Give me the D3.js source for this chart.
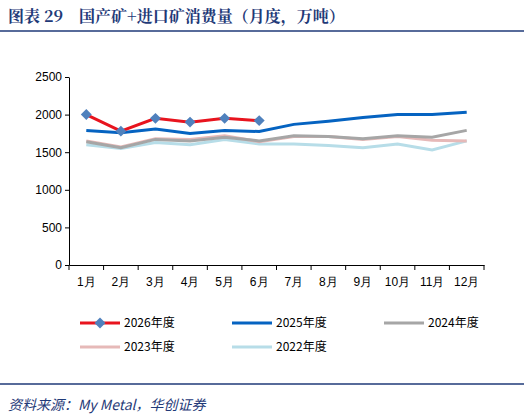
<!DOCTYPE html><html><head><meta charset="utf-8"><script src="https://cdn.jsdelivr.net/npm/d3@7"></script>
<style>body{margin:0;background:#fff}svg{font-family:"Noto Sans CJK SC","Liberation Serif",serif}</style></head><body><svg width="524" height="420"></svg>
<script>
const months=["1月","2月","3月","4月","5月","6月","7月","8月","9月","10月","11月","12月"];
const yTicks=[0,500,1000,1500,2000,2500];
const s2026=[2000,1780,1950,1900,1950,1920];
const s2025=[1790,1760,1810,1750,1790,1775,1870,1910,1960,2000,2000,2030];
const s2024=[1640,1560,1670,1650,1700,1650,1720,1710,1680,1720,1700,1790];
const s2023=[1650,1570,1680,1670,1720,1640,1710,1710,1670,1710,1660,1650];
const s2022=[1600,1550,1630,1600,1670,1610,1610,1590,1560,1610,1530,1650];
const series=[
 {name:"2022年度",v:s2022,c:"#b7dde8"},
 {name:"2023年度",v:s2023,c:"#e6b9b8"},
 {name:"2024年度",v:s2024,c:"#a6a6a6"},
 {name:"2025年度",v:s2025,c:"#0563c1"},
 {name:"2026年度",v:s2026,c:"#e8141e"}];
const svg=d3.select("svg");
svg.append("text").attr("x",8).attr("y",22).attr("font-size",16).attr("font-weight","bold").attr("fill","#1f3a78").attr("font-family","Noto Serif CJK SC,Liberation Serif,serif").text("图表 29　国产矿+进口矿消费量（月度，万吨）");
svg.append("line").attr("x1",0).attr("x2",524).attr("y1",31).attr("y2",31).attr("stroke","#1f3a78").attr("stroke-width",1.5);
const x=d3.scaleBand().domain(months).range([69,484]);
const y=d3.scaleLinear().domain([0,2500]).range([265,77]);
const gx=svg.append("g").attr("transform","translate(0,265)").call(d3.axisBottom(x).tickSize(4).tickSizeOuter(0));
gx.selectAll("text").attr("font-size",12).attr("dy","1.2em").attr("fill","#000");
const xt=[69,...months.map((m,i)=>x(m)+x.bandwidth())];
gx.selectAll(".tick line").remove();
gx.selectAll("line.t").data(xt).enter().append("line").attr("x1",d=>d).attr("x2",d=>d).attr("y1",0).attr("y2",5).attr("stroke","#000");
const gy=svg.append("g").attr("transform","translate(69,0)").call(d3.axisLeft(y).tickValues(yTicks).tickFormat(d3.format("d")).tickSize(4).tickSizeOuter(0));
gy.selectAll("text").attr("font-size",12).attr("fill","#000");
svg.selectAll(".domain").attr("stroke","#000");
const line=d3.line().x((d,i)=>x(months[i])+x.bandwidth()/2).y(d=>y(d));
series.forEach(s=>svg.append("path").attr("d",line(s.v)).attr("fill","none").attr("stroke",s.c).attr("stroke-width",3));
const dia=d3.symbol().type(d3.symbolSquare).size(60);
svg.selectAll("path.m").data(s2026).enter().append("path").attr("d",dia).attr("fill","#4f81bd")
 .attr("transform",(d,i)=>`translate(${x(months[i])+x.bandwidth()/2},${y(d)}) rotate(45)`);
const leg=[{s:series[4],x:80,y:323,m:true},{s:series[3],x:232,y:323},{s:series[2],x:384,y:323},{s:series[1],x:80,y:347},{s:series[0],x:232,y:347}];
leg.forEach(l=>{
 svg.append("line").attr("x1",l.x).attr("x2",l.x+40).attr("y1",l.y).attr("y2",l.y).attr("stroke",l.s.c).attr("stroke-width",3);
 if(l.m) svg.append("path").attr("d",dia).attr("fill","#4f81bd").attr("transform",`translate(${l.x+20},${l.y}) rotate(45)`);
 svg.append("text").attr("x",l.x+44).attr("y",l.y+4).attr("font-size",12).text(l.s.name);
});
svg.append("line").attr("x1",0).attr("x2",524).attr("y1",384).attr("y2",384).attr("stroke","#1f3a78").attr("stroke-width",1.5);
svg.append("text").attr("x",8).attr("y",410).attr("font-size",14).attr("font-style","italic").attr("fill","#1f3a78").text("资料来源：My Metal，华创证券");
</script></body></html>
